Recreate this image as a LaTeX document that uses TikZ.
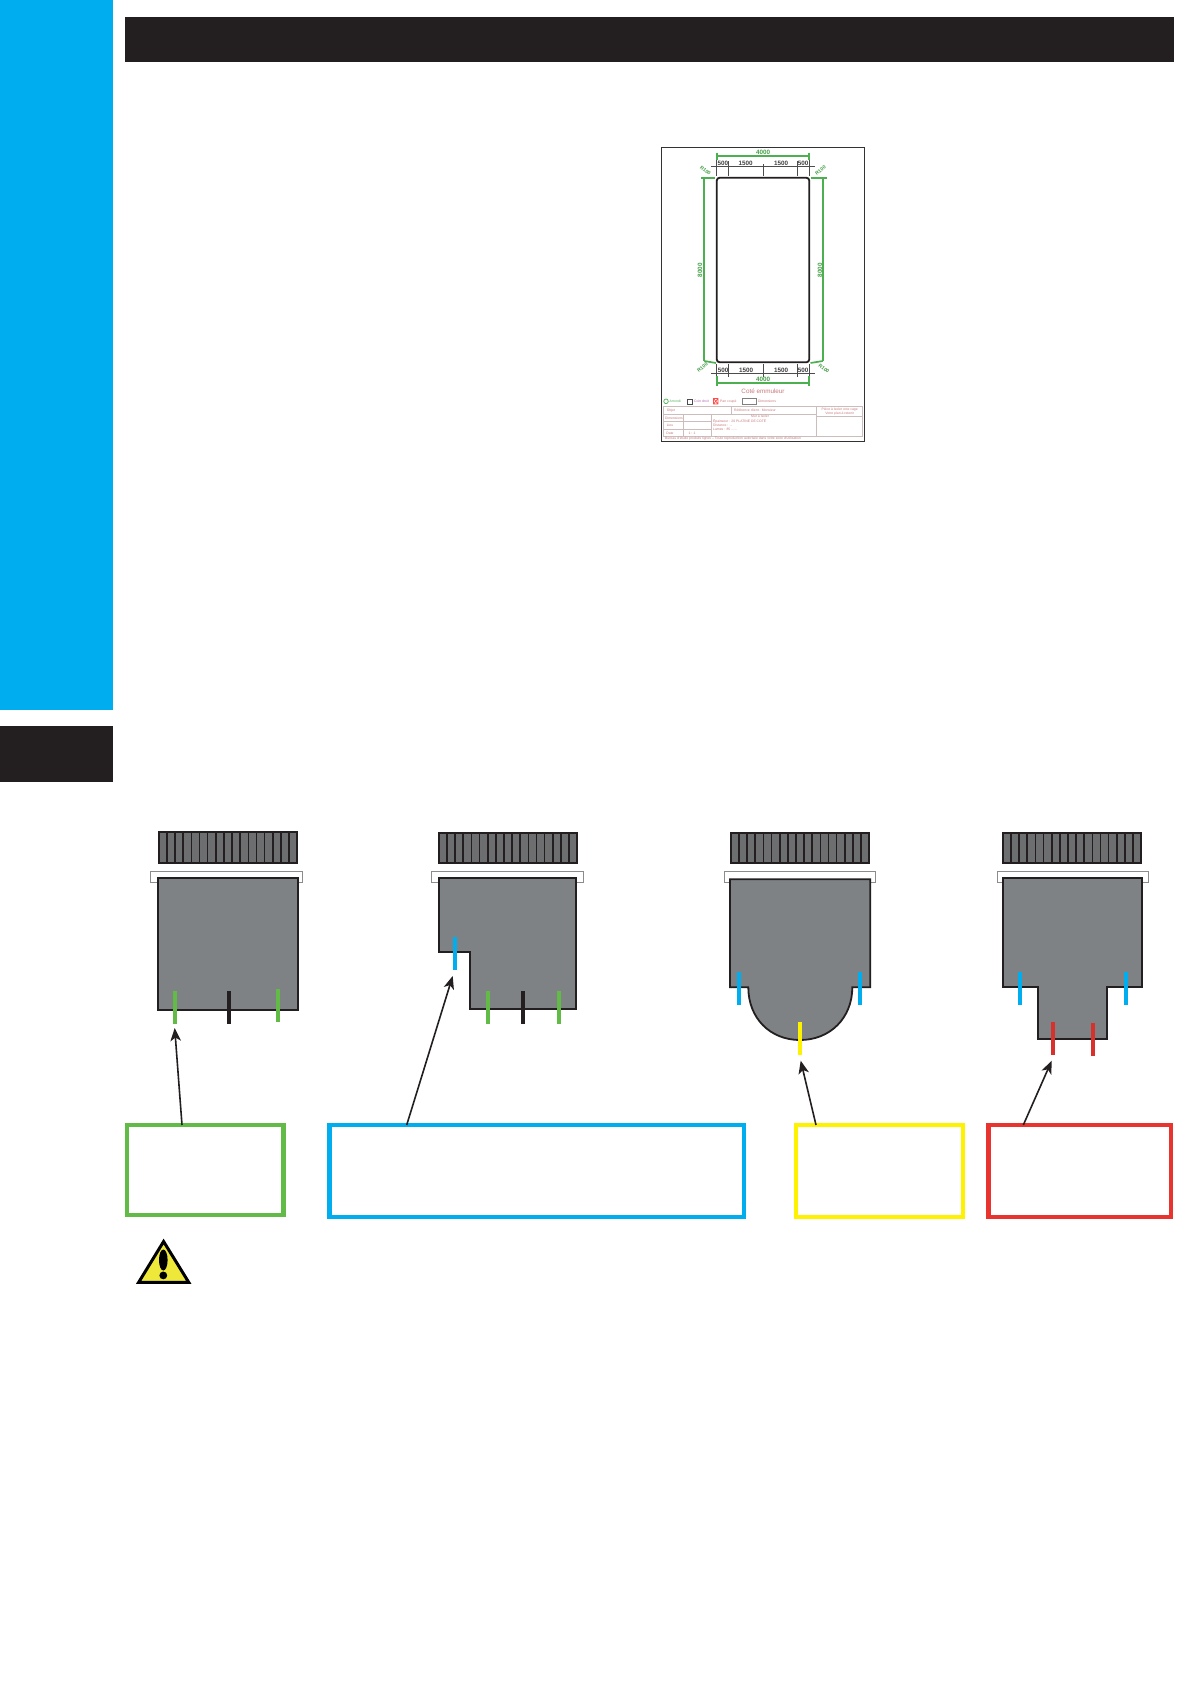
\documentclass[tikz,border=0pt]{standalone}
\usepackage{fontspec}
\setmainfont{Liberation Sans}
\usetikzlibrary{arrows.meta}
\definecolor{cblue}{HTML}{00AEEF}
\definecolor{cdark}{HTML}{231F20}
\definecolor{cbody}{HTML}{7F8284}
\definecolor{cgrill}{HTML}{6D6E70}
\definecolor{cgreen}{HTML}{62BB46}
\definecolor{cyell}{HTML}{FFF200}
\definecolor{cred}{HTML}{E8332E}
\definecolor{ctick}{HTML}{D8312C}
\definecolor{cdim}{HTML}{4DB050}
\definecolor{cnote}{HTML}{C9787A}
\definecolor{cwarn}{HTML}{EDE83A}
\tikzset{
  body/.style={fill=cbody,draw=cdark,line width=1.8pt,line join=miter},
  grillbox/.style={fill=cgrill,draw=cdark,line width=1.8pt},
  grillbar/.style={draw=cdark,line width=1.7pt},
  bracket/.style={fill=white,draw=black!45,line width=1pt},
  tick/.style={line width=4pt},
  callout/.style={draw=#1,fill=white,line width=4.6pt,outer sep=0pt,inner sep=0pt},
  pointer/.style={draw=cdark,line width=1.6pt,-{Stealth[length=13pt,width=10.5pt,inset=3.5pt]}},
  dimg/.style={draw=cdim,line width=1.7pt},
  dimk/.style={draw=black!70,line width=1pt},
  txg/.style={text=cdim!90!black,font=\fontsize{6.3}{6.3}\selectfont\bfseries,inner sep=0pt},
  txr/.style={text=cdim!90!black,font=\fontsize{5}{5}\selectfont\bfseries,inner sep=0pt},
  txk/.style={text=black!75,font=\fontsize{6.3}{6.3}\selectfont\bfseries,inner sep=0pt},
  txn/.style={text=cnote,font=\fontsize{3.4}{3.4}\selectfont,inner sep=0pt},
  block/.style={draw=cnote!55!black!35,line width=.6pt},
}
\newcommand{\grillat}[3]{%
  \draw[grillbox] (#1,#3) rectangle (#2,863.3);
  \pgfmathsetmacro{\gstep}{(#2-#1)/17}
  \foreach \i in {1,...,16}{\draw[grillbar] ({#1+\i*\gstep},#3) -- ({#1+\i*\gstep},863.3);}
}
\begin{document}
\begin{tikzpicture}[x=1pt,y=-1pt]
\useasboundingbox (0,0) rectangle (1190,1684);
\fill[white] (0,0) rectangle (1190,1684);
% page furniture
\fill[cblue] (0,0) rectangle (113,710);
\fill[cdark] (0,726) rectangle (113,782);
\fill[cdark] (125,17) rectangle (1174,62);

% drawing sheet
\draw[black!80,line width=.9pt] (661,147) rectangle (864,441);
\draw[cdark,line width=1.8pt,rounded corners=3pt] (716.7,177.7) rectangle (809.3,362.3);
% top dims
\draw[dimg] (716.7,152.5) -- (716.7,160) (809.3,152.5) -- (809.3,160) (716.7,155.7) -- (809.3,155.7);
\node[txg] (t4000a) at (763,152.3) {4000};
\draw[dimk] (711,166.7) -- (815,166.7);
\draw[dimk] (716.7,160) -- (716.7,176) (728.7,161) -- (728.7,176) (763,164) -- (763,176) (797,161) -- (797,176) (809.3,160) -- (809.3,176);
\node[txk] (ta1) at (722.9,163.3) {500};
\node[txk] (ta2) at (745.5,163.3) {1500};
\node[txk] (ta3) at (781,163.3) {1500};
\node[txk] (ta4) at (803,163.3) {500};
% sides
\draw[dimg] (701,177.7) -- (715,177.7) (810.5,177.7) -- (826.7,177.7) (704.3,177.7) -- (704.3,361) (822.7,177.7) -- (822.7,361);
\node[txg,rotate=90] (t8l) at (700,270) {8000};
\node[txg,rotate=90] (t8r) at (820,270) {8000};
\node[txr,rotate=-38] (r1) at (705.5,170.5) {R100};
\node[txr,rotate=38] (r2) at (820.5,170.5) {R100};
\node[txr,rotate=38] (r3) at (702.5,367.5) {R100};
\node[txr,rotate=-38] (r4) at (824,368.5) {R100};
\draw[dimg] (704.3,361) -- (716,363) (822.7,361) -- (810.5,363);
% bottom dims
\draw[dimk] (711,373.5) -- (815,373.5);
\draw[dimk] (716.7,364) -- (716.7,377) (728.7,364) -- (728.7,377) (763,364) -- (763,377) (797,364) -- (797,377) (809.3,364) -- (809.3,377);
\node[txk] (tb1) at (723,370) {500};
\node[txk] (tb2) at (746,370) {1500};
\node[txk] (tb3) at (781,370) {1500};
\node[txk] (tb4) at (803,370) {500};
\draw[dimg] (716.7,376) -- (716.7,386) (809.3,376) -- (809.3,386) (716.7,382.7) -- (809.3,382.7);
\node[txg] (t4000b) at (763,379.5) {4000};
\node[text=cnote,font=\fontsize{6.3}{6.3}\selectfont,inner sep=0pt] (cote) at (763,391) {Coté emmuleur};
% legend
\draw[cdim,line width=.7pt] (666,401.3) circle (2.3);
\node[txn,text=cdim,anchor=west] (l1) at (669.5,401.3) {Arrondi};
\draw[black!70,line width=.7pt] (687.5,399) rectangle (692.5,404);
\node[txn,text=violet!60,anchor=west] (l2) at (694,401.3) {Coin droit};
\draw[red!70,line width=.7pt] (713.5,398.5) rectangle (718,404) (713.5,398.5) -- (718,404) (718,398.5) -- (713.5,404);
\node[txn,anchor=west] (l3) at (720,401.3) {Pan coupé};
\draw[black!50,line width=.5pt] (742.3,398.5) rectangle (756,404);
\node[txn,anchor=west] (l4) at (758,401.3) {Dimensions};
% title block
\draw[block] (663,406.7) rectangle (862.7,436.7);
\draw[block] (663,414) -- (816.7,414) (731.7,406.7) -- (731.7,414) (683,414) -- (683,436.7) (711,414) -- (711,436.7) (663,421.7) -- (711,421.7) (663,429) -- (711,429) (816.7,406.7) -- (816.7,436.7) (816.7,416) -- (862.7,416);
\node[txn] (b1) at (671,410.5) {Objet};
\node[txn] (b2) at (755,410.5) {Référence client : Monsieur};
\node[txn] (b3) at (760,416.3) {Mur à isoler};
\node[txn] (b4) at (674,417.8) {Dimensions};
\node[txn] (b5) at (670,425.3) {Lieu};
\node[txn] (b6) at (670,433) {Date};
\node[txn] (b7) at (692,433) {1 : 1};
\node[txn,anchor=west] (b8) at (713,421.5) {Épaisseur : 20 PLATINE DE COTÉ};
\node[txn,anchor=west] (b9) at (713,425) {Distance : ...};
\node[txn,anchor=west] (b10) at (713,429) {Lames : 85 ......};
\node[txn,align=center] (b11) at (839.7,411.5) {Pièce à isoler cote cage\\Votre plan à retenir};
\node[txn,anchor=west] (b12) at (665,439) {Bureau d'étude produits lignes – Toute reproduction autorisée dans votre zone d'utilisation};

% shape 1
\draw[bracket] (150.7,871.7) rectangle (302.3,882.7);
\grillat{158.8}{297.2}{832.2}
\draw[body] (158.3,877.7) -- (297.7,877.7) -- (297.7,1010) -- (158.3,1010) -- cycle;
\draw[tick,cgreen] (175,991) -- (175,1024);
\draw[tick,cdark] (229,991) -- (229,1024);
\draw[tick,cgreen] (278,989) -- (278,1021.7);
\coordinate (p1) at (174.7,1028);

% shape 2
\draw[bracket] (431.7,871.7) rectangle (583.3,882.7);
\grillat{438.8}{577.2}{833.2}
\draw[body] (438.7,878) -- (576.3,878) -- (576.3,1009.3) -- (470,1009.3) -- (470,952) -- (438.7,952) -- cycle;
\draw[tick,cblue] (455,936.7) -- (455,970);
\draw[tick,cgreen] (488.3,991) -- (488.3,1024);
\draw[tick,cdark] (523,991) -- (523,1024);
\draw[tick,cgreen] (559,991) -- (559,1024);
\coordinate (p2) at (452.7,976);

% shape 3
\draw[bracket] (724.3,871.7) rectangle (875.7,882.7);
\grillat{730.8}{869.2}{833.2}
\draw[body] (730,879.3) -- (870.3,879.3) -- (870.3,987.3) -- (852.3,987.3)
  .. controls (852.3,1018) and (830,1040) .. (800,1040)
  .. controls (770,1040) and (748.3,1018) .. (748.3,987.3) -- (730,987.3) -- cycle;
\draw[tick,cblue] (739,972.3) -- (739,1004.7);
\draw[tick,cblue] (860,972.3) -- (860,1004.7);
\draw[tick,cyell] (800,1022) -- (800,1055);
\coordinate (p3) at (800.7,1060.7);

% shape 4
\draw[bracket] (997,871.7) rectangle (1148.7,882.7);
\grillat{1002.8}{1141.2}{833.2}
\draw[body] (1002.7,877.7) -- (1142.3,877.7) -- (1142.3,987) -- (1107,987) -- (1107,1038.7) -- (1038.3,1038.7) -- (1038.3,987) -- (1002.7,987) -- cycle;
\draw[tick,cblue] (1020,972.3) -- (1020,1004.7);
\draw[tick,cblue] (1126,972.3) -- (1126,1004.7);
\draw[tick,ctick] (1053,1022) -- (1053,1055);
\draw[tick,ctick] (1093,1023) -- (1093,1056);
\coordinate (p4) at (1051.7,1060.7);

% callouts
\node[callout=cgreen,minimum width=156.7pt,minimum height=90pt] (box1) at (205.3,1170) {};
\node[callout=cblue,minimum width=414.7pt,minimum height=92pt] (box2) at (536.7,1171) {};
\node[callout=cyell,minimum width=167pt,minimum height=92pt] (box3) at (879.5,1171) {};
\node[callout=cred,minimum width=182.3pt,minimum height=92pt] (box4) at (1079.9,1171) {};
\draw[pointer] ([xshift=-23.3pt]box1.north) -- (p1);
\draw[pointer] ([xshift=-130pt]box2.north) -- (p2);
\draw[pointer] ([xshift=-63.5pt]box3.north) -- (p3);
\draw[pointer] ([xshift=-56.6pt]box4.north) -- (p4);

% warning sign
\draw[fill=cwarn,draw=black,line width=3pt,line join=miter] (163.6,1241.5) -- (188.8,1282.4) -- (138.6,1282.4) -- cycle;
\fill[black] (163.3,1260) ellipse (4.3 and 10.5);
\fill[black] (163.3,1275.4) circle (3.9);
\end{tikzpicture}
\end{document}
